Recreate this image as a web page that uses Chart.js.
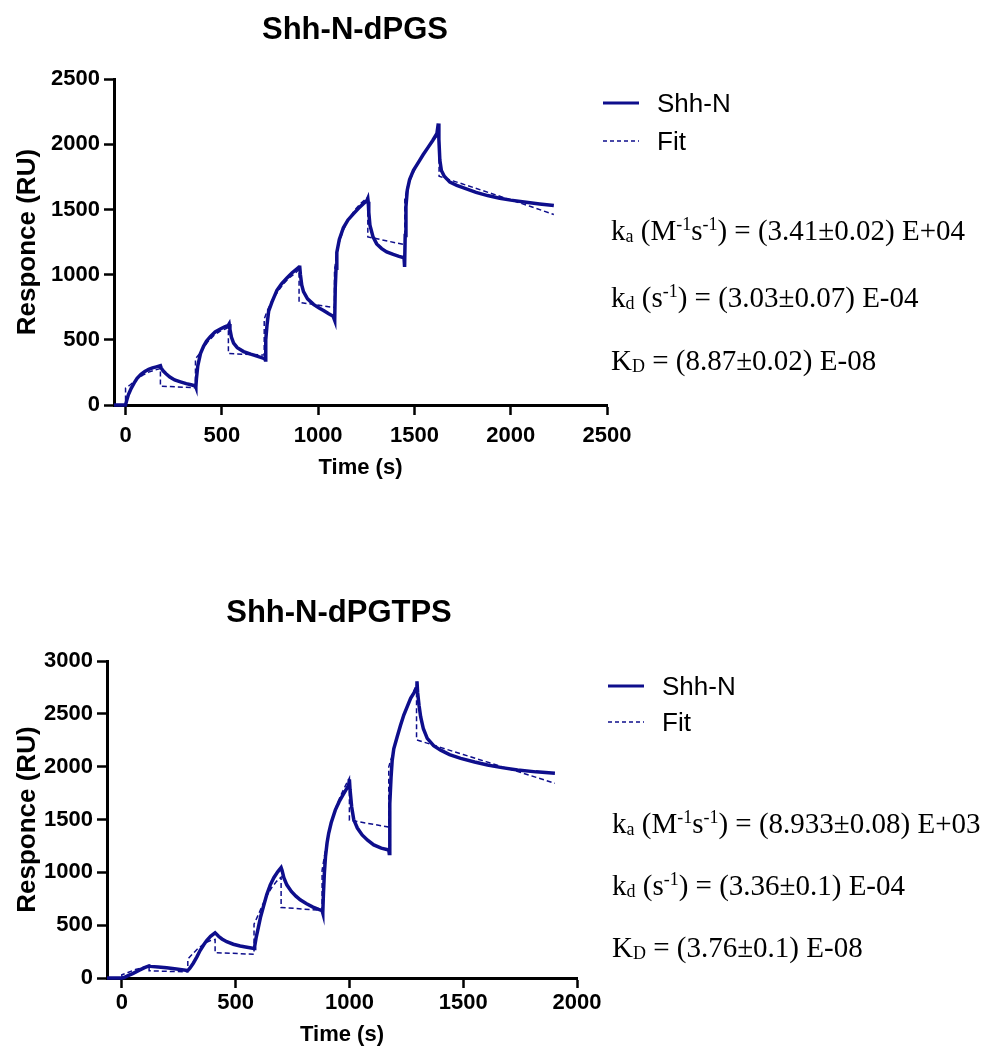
<!DOCTYPE html>
<html>
<head>
<meta charset="utf-8">
<script src="https://cdn.jsdelivr.net/npm/chart.js@4.4.1/dist/chart.umd.min.js"></script>
<style>
  html, body { margin: 0; padding: 0; background: #fff; }
  body { width: 986px; height: 1050px; position: relative; overflow: hidden; font-family: "Liberation Sans", Arial, sans-serif; }
  canvas { position: absolute; left: 0; }
  .leg { position: absolute; display: flex; align-items: center; height: 30px; white-space: nowrap; font-size: 26px; color: #000; }
  .leg svg { display: block; margin-right: 18px; }
  .kin { position: absolute; font-family: "Liberation Serif", "Times New Roman", serif; font-size: 29px; line-height: 29px; white-space: nowrap; color: #000; }
  .kin sub, .kin sup { font-size: 62%; line-height: 0; }
  .kin sub { vertical-align: -0.12em; }
  .kin sup { vertical-align: 0.55em; }
</style>
</head>
<body>
<canvas id="top" width="710" height="490" style="top:0px"></canvas>
<canvas id="bot" width="678" height="470" style="top:580px"></canvas>

<div class="leg" style="left:603px;top:88px"><svg width="36" height="4"><line x1="0" y1="2" x2="36" y2="2" stroke="#0e0e8c" stroke-width="3.2"/></svg>Shh-N</div>
<div class="leg" style="left:603px;top:126px"><svg width="36" height="4"><line x1="0" y1="2" x2="36" y2="2" stroke="#0e0e8c" stroke-width="1.4" stroke-dasharray="4 3"/></svg>Fit</div>
<div class="kin" style="left:611px;top:216px">k<sub>a</sub> (M<sup>-1</sup>s<sup>-1</sup>) = (3.41±0.02) E+04</div>
<div class="kin" style="left:611px;top:283px">k<sub>d</sub> (s<sup>-1</sup>) = (3.03±0.07) E-04</div>
<div class="kin" style="left:611px;top:346px">K<sub>D</sub> = (8.87±0.02) E-08</div>

<div class="leg" style="left:608px;top:671px"><svg width="36" height="4"><line x1="0" y1="2" x2="36" y2="2" stroke="#0e0e8c" stroke-width="3.2"/></svg>Shh-N</div>
<div class="leg" style="left:608px;top:707px"><svg width="36" height="4"><line x1="0" y1="2" x2="36" y2="2" stroke="#0e0e8c" stroke-width="1.4" stroke-dasharray="4 3"/></svg>Fit</div>
<div class="kin" style="left:612px;top:809px">k<sub>a</sub> (M<sup>-1</sup>s<sup>-1</sup>) = (8.933±0.08) E+03</div>
<div class="kin" style="left:612px;top:871px">k<sub>d</sub> (s<sup>-1</sup>) = (3.36±0.1) E-04</div>
<div class="kin" style="left:612px;top:933px">K<sub>D</sub> = (3.76±0.1) E-08</div>

<script>
// ---------- data ----------
const seriesLabels = ['Shh-N', 'Fit'];

const topTitle = 'Shh-N-dPGS';
const topXTicks = [0, 500, 1000, 1500, 2000, 2500];
const topYTicks = [0, 500, 1000, 1500, 2000, 2500];

const topT = [-60, -30, 0, 5, 15, 30, 45, 60, 80, 100, 120, 140, 160, 181,
  185, 195, 210, 230, 255, 285, 315, 340, 363, 365,
  368, 375, 389, 405, 420, 440, 465, 492, 515, 534, 538,
  542, 550, 561, 580, 613, 650, 682, 710, 722, 725,
  728, 735, 743, 760, 786, 810, 838, 865, 890, 901, 904,
  908, 915, 924, 945, 976, 1005, 1028, 1055, 1078, 1083, 1086,
  1089, 1093, 1097, 1110, 1131, 1155, 1183, 1210, 1235, 1253, 1258,
  1260, 1263, 1269, 1285, 1304, 1330, 1356, 1390, 1420, 1446, 1449,
  1452, 1456, 1463, 1475, 1495, 1520, 1545, 1570, 1595, 1617, 1624,
  1627, 1632, 1640, 1655, 1684, 1720, 1770, 1820, 1880, 1943, 2000, 2080, 2150, 2224];
const topR = [0, 0, 0, 30, 80, 130, 170, 205, 235, 258, 273, 285, 293, 302,
  285, 262, 240, 215, 192, 178, 164, 155, 146, 138,
  200, 300, 395, 450, 490, 525, 560, 583, 600, 612, 622,
  580, 520, 475, 440, 410, 390, 375, 362, 355, 345,
  500, 620, 720, 790, 880, 930, 975, 1015, 1045, 1058, 1070,
  1000, 920, 870, 815, 772, 745, 725, 700, 682, 660, 648,
  900, 1050, 1170, 1270, 1360, 1420, 1467, 1510, 1545, 1568, 1585,
  1560, 1480, 1380, 1290, 1236, 1200, 1175, 1155, 1140, 1130, 1060,
  1300, 1520, 1650, 1730, 1800, 1860, 1920, 1975, 2030, 2085, 2160,
  2040, 1880, 1800, 1755, 1710, 1685, 1659, 1632, 1607, 1587, 1572, 1556, 1543, 1531];

const topFitT = [-60, 0, 0, 20, 40, 60, 90, 120, 150, 181, 181, 363,
  363, 380, 400, 430, 460, 490, 520, 534, 534, 720,
  720, 735, 760, 790, 820, 850, 880, 901, 901, 1085,
  1085, 1095, 1110, 1130, 1160, 1190, 1220, 1258, 1258, 1450,
  1450, 1465, 1490, 1520, 1550, 1580, 1610, 1628, 1628, 1700, 1800, 1900, 2000, 2100, 2224];
const topFitR = [0, 0, 130, 150, 175, 200, 230, 252, 267, 280, 145, 132,
  355, 385, 430, 490, 535, 565, 585, 595, 395, 383,
  660, 720, 800, 870, 930, 975, 1010, 1040, 788, 748,
  1030, 1150, 1250, 1340, 1430, 1495, 1545, 1595, 1290, 1230,
  1580, 1680, 1770, 1860, 1930, 1995, 2050, 2080, 1755, 1720, 1672, 1623, 1574, 1525, 1462];

const botTitle = 'Shh-N-dPGTPS';
const botXTicks = [0, 500, 1000, 1500, 2000];
const botYTicks = [0, 500, 1000, 1500, 2000, 2500, 3000];

const botT = [-65, 0, 10, 30, 50, 75, 100, 120,
  125, 160, 197, 240, 288,
  292, 300, 314, 330, 344, 360, 373, 390, 410,
  414, 425, 440, 461, 490, 520, 550, 581,
  584, 590, 600, 610, 622, 637, 652, 668, 685, 700,
  704, 712, 725, 745, 765, 784, 810, 840, 865, 880, 883,
  886, 890, 895, 902, 909, 920, 938, 955, 975, 990, 997, 1000,
  1003, 1010, 1019, 1035, 1056, 1080, 1107, 1140, 1173, 1175,
  1177, 1178, 1183, 1188, 1195, 1210, 1225, 1239, 1255, 1269, 1285, 1295, 1297,
  1300, 1306, 1313, 1325, 1342, 1370, 1401, 1440, 1489, 1550, 1607, 1670, 1739, 1820, 1903];
const botR = [0, 0, 5, 25, 44, 72, 98, 115,
  110, 104, 97, 85, 72,
  75, 95, 140, 200, 260, 315, 355, 395, 428,
  420, 395, 370, 344, 320, 303, 291, 280,
  300, 380, 480, 580, 675, 790, 880, 950, 1005, 1045,
  1020, 950, 882, 820, 775, 740, 705, 672, 650, 638, 615,
  800, 990, 1150, 1280, 1370, 1470, 1590, 1670, 1745, 1800, 1828, 1880,
  1780, 1620, 1500, 1420, 1355, 1305, 1260, 1230, 1212, 1180,
  1400, 1650, 1900, 2060, 2170, 2285, 2395, 2490, 2575, 2648, 2705, 2745, 2810,
  2700, 2580, 2475, 2360, 2270, 2200, 2158, 2115, 2080, 2045, 2017, 1992, 1970, 1952, 1940];

const botFitT = [-65, 0, 0, 30, 60, 90, 120, 120, 290,
  290, 310, 330, 350, 370, 390, 410, 410, 581,
  581, 600, 620, 640, 660, 680, 700, 700, 880,
  880, 890, 905, 920, 940, 960, 980, 1000, 1000, 1173,
  1173, 1190, 1210, 1230, 1250, 1270, 1295, 1295, 1400, 1500, 1600, 1700, 1800, 1903];
const botFitR = [0, 0, 30, 55, 80, 98, 112, 68, 58,
  180, 225, 270, 305, 335, 355, 365, 240, 225,
  510, 600, 700, 790, 860, 915, 955, 668, 640,
  1020, 1150, 1330, 1470, 1610, 1720, 1810, 1895, 1495, 1430,
  2000, 2120, 2290, 2430, 2550, 2650, 2780, 2255, 2184, 2116, 2049, 1981, 1914, 1844];

// ---------- drawing ----------
const NAVY = '#0e0e8c';
const FONT = 'Liberation Sans';

function zipPts(xs, ys) { return xs.map((x, i) => ({ x: x, y: ys[i] })); }

function makeChart(id, o) {
  const tickFont = { family: FONT, size: 22, weight: 'bold' };
  const gridCfg = { drawOnChartArea: false, drawTicks: true, tickLength: 10, tickWidth: 2.5, tickColor: '#000', color: '#000' };
  return new Chart(document.getElementById(id), {
    type: 'line',
    data: {
      datasets: [
        { label: seriesLabels[0], data: zipPts(o.t, o.r), borderColor: NAVY, backgroundColor: NAVY,
          borderWidth: 3.5, pointRadius: 0, tension: 0, fill: false, clip: false, order: 2 },
        { label: seriesLabels[1], data: zipPts(o.ft, o.fr), borderColor: NAVY, backgroundColor: NAVY,
          borderWidth: 1.5, borderDash: [5, 3], pointRadius: 0, tension: 0, fill: false, clip: false, order: 1 }
      ]
    },
    options: {
      responsive: false,
      animation: false,
      devicePixelRatio: 1,
      layout: { padding: { left: 0, right: 0, top: 0, bottom: 0 } },
      plugins: {
        legend: { display: false },
        tooltip: { enabled: false },
        title: { display: true, text: o.title, color: '#000',
          font: { family: FONT, size: 31, weight: 'bold' },
          padding: { top: o.titleTop, bottom: o.titleBottom } }
      },
      scales: {
        x: {
          type: 'linear', min: o.xmin, max: o.xmax,
          afterBuildTicks: s => { s.ticks = o.xticks.map(v => ({ value: v })); },
          afterFit: s => { s.height = o.xHeight; },
          ticks: { font: tickFont, color: '#000', padding: o.xTickPad, maxRotation: 0, autoSkip: false,
                   callback: v => String(v) },
          grid: gridCfg,
          border: { display: true, color: '#000', width: 3 },
          title: { display: true, text: 'Time (s)', color: '#000',
            font: { family: FONT, size: 22, weight: 'bold' }, padding: { top: 0, bottom: o.xTitlePad } }
        },
        y: {
          type: 'linear', min: o.ymin, max: o.ymax,
          afterBuildTicks: s => { s.ticks = o.yticks.map(v => ({ value: v })); },
          afterFit: s => { s.width = o.yWidth; },
          ticks: { font: tickFont, color: '#000', padding: 4, callback: v => String(v) },
          grid: gridCfg,
          border: { display: true, color: '#000', width: 3 },
          title: { display: true, text: 'Responce (RU)', color: '#000',
            font: { family: FONT, size: 26, weight: 'bold' }, padding: { top: 12, bottom: 0 } }
        },
        side: {
          type: 'linear', position: 'right', display: true,
          afterFit: s => { s.width = o.rightSpace; },
          ticks: { display: false },
          grid: { display: false, drawTicks: false },
          border: { display: false },
          title: { display: false }
        }
      }
    }
  });
}

makeChart('top', {
  title: topTitle, t: topT, r: topR, ft: topFitT, fr: topFitR,
  xticks: topXTicks, yticks: topYTicks, xmin: -60, xmax: 2500, ymin: 0, ymax: 2500,
  rightSpace: 103, titleTop: 12, titleBottom: 30, xHeight: 85, xTickPad: 8, xTitlePad: 9, yWidth: 114
});
makeChart('bot', {
  title: botTitle, t: botT, r: botR, ft: botFitT, fr: botFitR,
  xticks: botXTicks, yticks: botYTicks, xmin: -65, xmax: 2000, ymin: 0, ymax: 3000,
  rightSpace: 101, titleTop: 15, titleBottom: 29, xHeight: 72, xTickPad: 2, xTitlePad: 2, yWidth: 107
});
</script>
</body>
</html>
